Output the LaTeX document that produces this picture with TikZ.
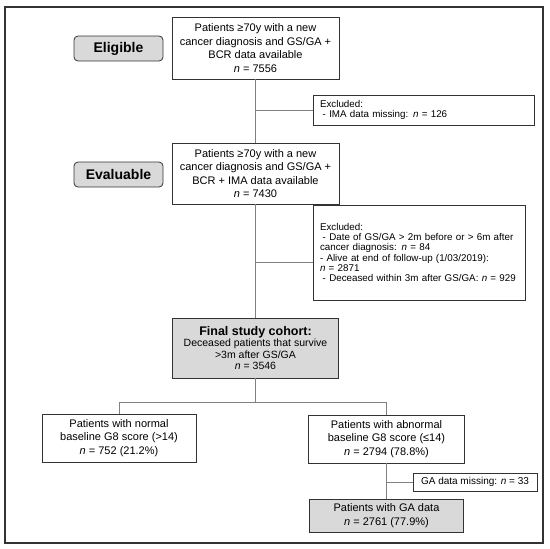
\documentclass[tikz,border=0pt]{standalone}
\usepackage{fontspec}
\setmainfont{Liberation Sans}
\definecolor{boxgray}{HTML}{D9D9D9}
\definecolor{linegray}{HTML}{808080}
\definecolor{edge}{HTML}{333333}
\begin{document}
\begin{tikzpicture}[x=1pt,y=-1pt,
  box/.style={draw=edge, line width=0.8pt, fill=white, inner sep=0pt, align=center,
    font=\fontsize{11}{13.4}\selectfont},
  graybox/.style={box, fill=boxgray},
  stagebox/.style={draw=edge, line width=0.8pt, fill=boxgray, rounded corners=4pt, inner sep=0pt,
    minimum width=89pt, minimum height=25pt, font=\bfseries\fontsize{14}{16}\selectfont},
  exclbox/.style={draw=edge, line width=0.8pt, fill=white, inner sep=0pt, align=left,
    font=\fontsize{9.8}{10.3}\selectfont},
  conn/.style={draw=linegray, line width=0.8pt}
]
\useasboundingbox (0,0) rectangle (550,549);
\draw[draw=edge, line width=1.4pt] (5,7) rectangle (543,543);

% stage labels
\node[stagebox] (elig) at (118.5,48.5) {Eligible};
\node[stagebox] (eval) at (118.5,174.5) {Evaluable};

% main boxes
\node[box, minimum width=167pt, minimum height=62pt] (b1) at (255.5,48)
  {Patients ≥70y with a new\\cancer diagnosis and GS/GA +\\BCR data available\\\textit{n} = 7556};
\node[box, minimum width=167pt, minimum height=61pt] (b2) at (255.5,173.5)
  {Patients ≥70y with a new\\cancer diagnosis and GS/GA +\\BCR + IMA data available\\\textit{n} = 7430};
\node[graybox, minimum width=166pt, minimum height=60pt, font=\fontsize{10.5}{11.4}\selectfont] (fin) at (255.5,348)
  {{\bfseries\fontsize{12.5}{14.5}\selectfont Final study cohort:}\\Deceased patients that survive\\>3m after GS/GA\\\textit{n} = 3546};
\node[box, minimum width=154pt, minimum height=48pt] (norm) at (119,438)
  {Patients with normal\\baseline G8 score (>14)\\\textit{n} = 752 (21.2\%)};
\node[box, minimum width=156pt, minimum height=48pt] (abn) at (386.5,439)
  {Patients with abnormal\\baseline G8 score (≤14)\\\textit{n} = 2794 (78.8\%)};
\node[graybox, minimum width=154pt, minimum height=33pt] (ga) at (386.5,515.5)
  {Patients with GA data\\\textit{n} = 2761 (77.9\%)};

% exclusion boxes
\node[exclbox, minimum width=221pt, minimum height=30pt, text width=207pt] (x1) at (423.5,110)
  {Excluded:\\\hspace*{0.28em}- IMA data missing: \textit{n} = 126};
\node[exclbox, minimum width=212pt, minimum height=95pt, text width=198pt] (x2) at (419,252.5)
  {Excluded:\\\hspace*{0.28em}- Date of GS/GA > 2m before or > 6m after\\cancer diagnosis: \textit{n} = 84\\- Alive at end of follow-up (1/03/2019):\\\textit{n} = 2871\\\hspace*{0.28em}- Deceased within 3m after GS/GA: \textit{n} = 929};
\node[box, minimum width=124pt, minimum height=18pt, font=\fontsize{10}{12}\selectfont] (gam) at (475,482)
  {GA data missing: \textit{n} = 33};

% connectors
\coordinate (x2c) at (313,262);
\draw[conn] (b1.south) -- (b2.north);
\draw[conn] (b1.south |- x1.west) -- (x1.west);
\draw[conn] (b2.south) -- (fin.north);
\draw[conn] (b2.south |- x2c) -- (x2c);
\draw[conn] (fin.south) -- ++(0,24) coordinate (bj);
\draw[conn] (norm.north) -- (norm.north |- bj) -- (abn.north |- bj) -- (abn.north);
\draw[conn] (abn.south) -- (ga.north);
\draw[conn] (abn.south |- gam.west) -- (gam.west);
\end{tikzpicture}
\end{document}
